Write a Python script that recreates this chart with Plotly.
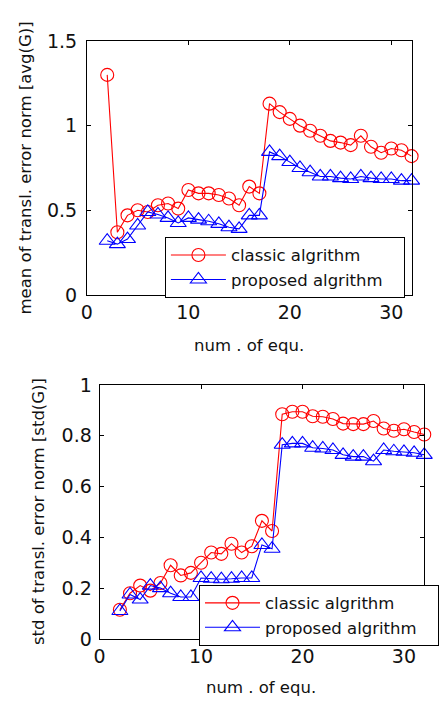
import plotly.graph_objects as go

x_equ = list(range(2, 33))

avg_classic = [1.30, 0.37, 0.47, 0.50, 0.49, 0.53, 0.54, 0.51, 0.62, 0.60, 0.60,
               0.59, 0.57, 0.53, 0.64, 0.60, 1.13, 1.08, 1.04, 1.00, 0.97, 0.94,
               0.91, 0.90, 0.885, 0.94, 0.875, 0.84, 0.865, 0.855, 0.82]
avg_proposed = [0.32, 0.30, 0.33, 0.41, 0.49, 0.475, 0.455, 0.425, 0.455, 0.445, 0.435,
                0.42, 0.40, 0.39, 0.47, 0.47, 0.845, 0.82, 0.785, 0.75, 0.725, 0.70,
                0.70, 0.69, 0.685, 0.70, 0.69, 0.685, 0.685, 0.675, 0.675]

std_classic = [0.115, 0.18, 0.21, 0.19, 0.22, 0.29, 0.25, 0.26, 0.30, 0.34, 0.335,
               0.375, 0.34, 0.365, 0.465, 0.425, 0.885, 0.895, 0.895, 0.877, 0.875,
               0.866, 0.848, 0.846, 0.846, 0.858, 0.829, 0.82, 0.826, 0.815, 0.805]
std_proposed = [0.11, 0.175, 0.155, 0.21, 0.20, 0.18, 0.165, 0.165, 0.24, 0.237, 0.235,
                0.237, 0.24, 0.24, 0.37, 0.355, 0.765, 0.77, 0.77, 0.753, 0.75,
                0.744, 0.725, 0.718, 0.718, 0.70, 0.744, 0.739, 0.737, 0.733, 0.725]

series_names = ["classic algrithm", "proposed algrithm"]
x_ticks = [0, 10, 20, 30]
avg_ticks = [0, 0.5, 1, 1.5]
avg_ticktext = ["0", "0.5", "1", "1.5"]
std_ticks = [0, 0.2, 0.4, 0.6, 0.8, 1]
std_ticktext = ["0", "0.2", "0.4", "0.6", "0.8", "1"]

RED = "#ff0000"
BLUE = "#0000ff"
W, H = 439, 709
PAD = "\u00a0\u00a0\u00a0"

fig = go.Figure()

def add(xa, ya, y, name, color, symbol, size, legend):
    fig.add_trace(go.Scatter(
        x=x_equ, y=y, name=name, mode="lines+markers", xaxis=xa, yaxis=ya,
        line=dict(color=color, width=1.1),
        marker=dict(symbol=symbol, size=size, color=color, line=dict(color=color, width=1.1)),
        cliponaxis=False, legend=legend,
    ))

add("x", "y", avg_classic, series_names[0], RED, "circle-open", 13, "legend")
add("x", "y", avg_proposed, series_names[1] + PAD, BLUE, "triangle-up-open", 14, "legend")
add("x2", "y2", std_classic, series_names[0], RED, "circle-open", 13, "legend2")
add("x2", "y2", std_proposed, series_names[1] + PAD, BLUE, "triangle-up-open", 14, "legend2")

axis_common = dict(showline=True, linecolor="black", linewidth=1, mirror="ticks",
                   ticks="inside", ticklen=4, tickcolor="black", showgrid=False,
                   zeroline=False, tickfont=dict(size=19, family="DejaVu Sans", color="#111"))

legend_common = dict(xanchor="left", yanchor="top", bordercolor="black", borderwidth=1,
                     bgcolor="white", font=dict(size=16.5, family="DejaVu Sans", color="#111"),
                     itemwidth=55, tracegroupgap=0)

fig.update_layout(
    width=W, height=H, margin=dict(l=0, r=0, t=0, b=0),
    plot_bgcolor="white", paper_bgcolor="white",
    font=dict(family="DejaVu Sans", size=16.5, color="#111"),
    showlegend=True,
    xaxis=dict(domain=[83 / W, 416 / W], anchor="y", range=[0, 32], tickvals=x_ticks, **axis_common),
    yaxis=dict(domain=[1 - 293 / H, 1 - 31 / H], anchor="x", range=[0, 1.5], tickvals=avg_ticks,
               ticktext=avg_ticktext, ticklabelstandoff=5, **axis_common),
    xaxis2=dict(domain=[96 / W, 429 / W], anchor="y2", range=[0, 32], tickvals=x_ticks, **axis_common),
    yaxis2=dict(domain=[1 - 648 / H, 1 - 386 / H], anchor="x2", range=[0, 1], tickvals=std_ticks,
                ticktext=std_ticktext, ticklabelstandoff=3, **axis_common),
    legend=dict(x=163 / W, y=1 - 233 / H, **legend_common),
    legend2=dict(x=198 / W, y=1 - 592 / H, **legend_common),
)

ann = [
    dict(text="num . of equ.", x=249 / W, y=1 - 345 / H),
    dict(text="num . of equ.", x=262 / W, y=1 - 698 / H),
    dict(text="mean of transl. error norm [avg(G)]", x=20 / W, y=1 - 162 / H, textangle=-90),
    dict(text="std of transl. error norm [std(G)]", x=34 / W, y=1 - 517 / H, textangle=-90),
]
for a in ann:
    fig.add_annotation(xref="paper", yref="paper", showarrow=False, xanchor="center",
                       yanchor="middle", font=dict(size=16.5, family="DejaVu Sans", color="#111"), **a)

fig.write_html("out.html")
